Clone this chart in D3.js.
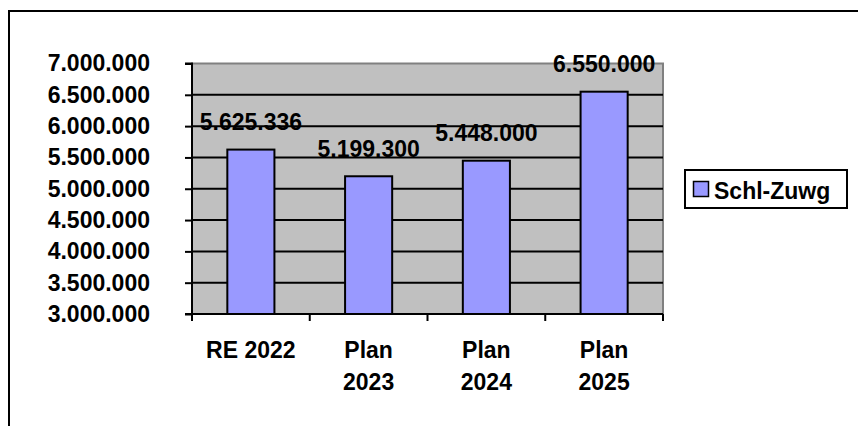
<!DOCTYPE html>
<html>
<head>
<meta charset="utf-8">
<script src="https://cdn.jsdelivr.net/npm/d3@7"></script>
<style>
  body { margin: 0; background: #fff; }
  svg { display: block; font-family: "Liberation Sans", Arial, sans-serif; font-weight: bold; }
</style>
</head>
<body>
<svg id="chart"></svg>
<script>
const categories = [['RE 2022'], ['Plan', '2023'], ['Plan', '2024'], ['Plan', '2025']];
const values = [5625336, 5199300, 5448000, 6550000];
const yTicks = [3000000, 3500000, 4000000, 4500000, 5000000, 5500000, 6000000, 6500000, 7000000];
const seriesName = 'Schl-Zuwg';

const width = 858, height = 426;
const plot = {left: 192, top: 63.5, right: 663, bottom: 314};
const fs = 23;

const fmt = v => d3.format(',')(v).replace(/,/g, '.');

const svg = d3.select('#chart').attr('width', width).attr('height', height);

// outer chart frame (only top and left visible)
svg.append('path')
    .attr('d', `M9,${height + 5}V11H${width + 5}`)
    .attr('fill', 'none')
    .attr('stroke', '#000')
    .attr('stroke-width', 2);

const x = d3.scaleBand()
    .domain(d3.range(values.length))
    .range([plot.left, plot.right])
    .paddingInner(0.6).paddingOuter(0.3);

const y = d3.scaleLinear()
    .domain([3000000, 7000000])
    .range([plot.bottom, plot.top]);

// plot area
svg.append('rect')
    .attr('x', plot.left).attr('y', plot.top)
    .attr('width', plot.right - plot.left).attr('height', plot.bottom - plot.top)
    .attr('fill', '#c0c0c0')
    .attr('stroke', '#808080')
    .attr('stroke-width', 2);

// gridlines
svg.append('g')
    .selectAll('line')
    .data(yTicks.slice(1, -1))
    .enter().append('line')
    .attr('x1', plot.left).attr('x2', plot.right)
    .attr('y1', d => y(d)).attr('y2', d => y(d))
    .attr('stroke', '#000').attr('stroke-width', 2);

// bars
svg.append('g')
    .selectAll('rect')
    .data(values)
    .enter().append('rect')
    .attr('x', (d, i) => x(i))
    .attr('y', d => y(d))
    .attr('width', x.bandwidth())
    .attr('height', d => plot.bottom - y(d))
    .attr('fill', '#9999ff')
    .attr('stroke', '#000')
    .attr('stroke-width', 2);

// y axis
const yAxis = svg.append('g')
    .attr('transform', `translate(${plot.left},0)`)
    .call(d3.axisLeft(y).tickValues(yTicks).tickSize(7).tickPadding(35).tickFormat(fmt));
yAxis.selectAll('line, path').attr('stroke', '#000').attr('stroke-width', 2);
yAxis.select('.domain').attr('d', `M-7,${plot.top}H0V${plot.bottom}H-7`);
yAxis.selectAll('text')
    .attr('font-size', fs).attr('font-weight', 'bold')
    .attr('font-family', '"Liberation Sans", Arial, sans-serif')
    .attr('fill', '#000');

// x axis
const step = x.step();
const xTicks = d3.range(values.length + 1).map(i => plot.left + i * (plot.right - plot.left) / values.length);
svg.append('line')
    .attr('x1', plot.left - 1).attr('x2', plot.right)
    .attr('y1', plot.bottom).attr('y2', plot.bottom)
    .attr('stroke', '#000').attr('stroke-width', 2);
svg.append('g')
    .selectAll('line')
    .data(xTicks)
    .enter().append('line')
    .attr('x1', d => d).attr('x2', d => d)
    .attr('y1', plot.bottom).attr('y2', plot.bottom + 7)
    .attr('stroke', '#000').attr('stroke-width', 2);

const catText = svg.append('g')
    .selectAll('text')
    .data(categories)
    .enter().append('text')
    .attr('text-anchor', 'middle')
    .attr('font-size', fs)
    .attr('x', (d, i) => x(i) + x.bandwidth() / 2)
    .attr('y', 357.5);
catText.selectAll('tspan')
    .data(d => d)
    .enter().append('tspan')
    .attr('x', function () { return d3.select(this.parentNode).attr('x'); })
    .attr('dy', (d, i) => i === 0 ? 0 : 32.5)
    .text(d => d);

// value labels
svg.append('g')
    .selectAll('text')
    .data(values)
    .enter().append('text')
    .attr('text-anchor', 'middle')
    .attr('font-size', fs)
    .attr('x', (d, i) => x(i) + x.bandwidth() / 2)
    .attr('y', d => y(d) - 19.5)
    .text(fmt);

// legend
const legend = svg.append('g').attr('transform', 'translate(685,170)');
legend.append('rect')
    .attr('width', 162).attr('height', 38)
    .attr('fill', '#fff').attr('stroke', '#000').attr('stroke-width', 2);
legend.append('rect')
    .attr('x', 8.5).attr('y', 11.5).attr('width', 15).attr('height', 15)
    .attr('fill', '#9999ff').attr('stroke', '#000').attr('stroke-width', 1.5);
legend.append('text')
    .attr('x', 29).attr('y', 29)
    .attr('font-size', fs)
    .text(seriesName);
</script>
</body>
</html>
